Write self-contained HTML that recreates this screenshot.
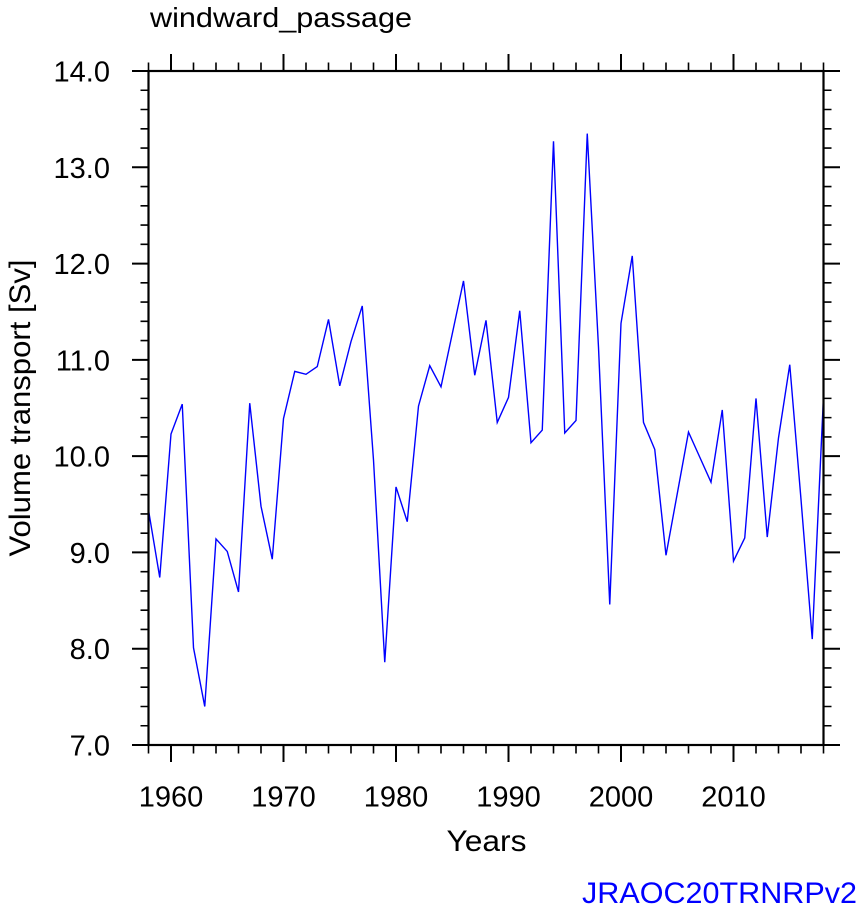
<!DOCTYPE html>
<html>
<head>
<meta charset="utf-8">
<style>
  html, body { margin:0; padding:0; background:#fff; }
  svg { display:block; }
  text { font-family: "Liberation Sans", Arial, Helvetica, sans-serif; fill:#000; }
</style>
</head>
<body>
<svg width="863" height="910" viewBox="0 0 863 910" xmlns="http://www.w3.org/2000/svg">
  <rect x="0" y="0" width="863" height="910" fill="#fff"/>

  <!-- Title -->
  <text x="150" y="27" font-size="28" textLength="262" lengthAdjust="spacingAndGlyphs">windward_passage</text>

  <!-- Data series -->
  <polyline fill="none" stroke="#0000ff" stroke-width="1.4" stroke-linejoin="miter" points="
148.5,510.06 159.75,577.46 171,434.0 182.25,404.15 193.5,647.75 204.75,706.49 216,538.95 227.25,551.46 238.5,591.9 249.75,403.19
261,506.21 272.25,559.17 283.5,418.59 294.75,371.41 306,374.3 317.25,366.6 328.5,319.42 339.75,385.85 351,341.56 362.25,305.94
373.5,459.99 384.75,662.19 396,486.95 407.25,521.62 418.5,406.07 429.75,365.63 441,386.81 452.25,333.86 463.5,280.9 474.75,375.26
486,320.38 497.25,422.44 508.5,397.41 519.75,310.75 531,442.66 542.25,430.15 553.5,141.29 564.75,433.03 576,420.52 587.25,133.59
598.5,347.34 609.75,604.42 621,323.27 632.25,255.87 643.5,422.44 654.75,449.4 666,555.31 677.25,493.69 688.5,432.07 699.75,457.11
711,482.14 722.25,409.93 733.5,561.09 744.75,537.99 756,398.37 767.25,537.02 778.5,437.85 789.75,364.67 801,499.47 812.25,639.09
823.5,396.45"/>

  <!-- Frame -->
  <rect x="148.5" y="71" width="675" height="674" fill="none" stroke="#000" stroke-width="2.2"/>

  <!-- Ticks -->
  <g stroke="#000" stroke-width="2">
    <path d="M132,745H148.5 M132,648.71H148.5 M132,552.43H148.5 M132,456.14H148.5 M132,359.86H148.5 M132,263.57H148.5 M132,167.29H148.5 M132,71H148.5"/>
    <path d="M823.5,745H840 M823.5,648.71H840 M823.5,552.43H840 M823.5,456.14H840 M823.5,359.86H840 M823.5,263.57H840 M823.5,167.29H840 M823.5,71H840"/>
    <path d="M171,745V762 M283.5,745V762 M396,745V762 M508.5,745V762 M621,745V762 M733.5,745V762"/>
    <path d="M171,71V54 M283.5,71V54 M396,71V54 M508.5,71V54 M621,71V54 M733.5,71V54"/>
  </g>
  <g stroke="#000" stroke-width="1.6">
    <path d="M140.5,725.74H148.5 M140.5,706.49H148.5 M140.5,687.23H148.5 M140.5,667.97H148.5
             M140.5,629.46H148.5 M140.5,610.2H148.5 M140.5,590.94H148.5 M140.5,571.69H148.5
             M140.5,533.17H148.5 M140.5,513.91H148.5 M140.5,494.66H148.5 M140.5,475.4H148.5
             M140.5,436.89H148.5 M140.5,417.63H148.5 M140.5,398.37H148.5 M140.5,379.11H148.5
             M140.5,340.6H148.5 M140.5,321.34H148.5 M140.5,302.09H148.5 M140.5,282.83H148.5
             M140.5,244.31H148.5 M140.5,225.06H148.5 M140.5,205.8H148.5 M140.5,186.54H148.5
             M140.5,148.03H148.5 M140.5,128.77H148.5 M140.5,109.51H148.5 M140.5,90.26H148.5"/>
    <path d="M823.5,725.74H831.5 M823.5,706.49H831.5 M823.5,687.23H831.5 M823.5,667.97H831.5
             M823.5,629.46H831.5 M823.5,610.2H831.5 M823.5,590.94H831.5 M823.5,571.69H831.5
             M823.5,533.17H831.5 M823.5,513.91H831.5 M823.5,494.66H831.5 M823.5,475.4H831.5
             M823.5,436.89H831.5 M823.5,417.63H831.5 M823.5,398.37H831.5 M823.5,379.11H831.5
             M823.5,340.6H831.5 M823.5,321.34H831.5 M823.5,302.09H831.5 M823.5,282.83H831.5
             M823.5,244.31H831.5 M823.5,225.06H831.5 M823.5,205.8H831.5 M823.5,186.54H831.5
             M823.5,148.03H831.5 M823.5,128.77H831.5 M823.5,109.51H831.5 M823.5,90.26H831.5"/>
    <path d="M148.5,745V753.5 M193.5,745V753.5 M216,745V753.5 M238.5,745V753.5 M261,745V753.5
             M306,745V753.5 M328.5,745V753.5 M351,745V753.5 M373.5,745V753.5
             M418.5,745V753.5 M441,745V753.5 M463.5,745V753.5 M486,745V753.5
             M531,745V753.5 M553.5,745V753.5 M576,745V753.5 M598.5,745V753.5
             M643.5,745V753.5 M666,745V753.5 M688.5,745V753.5 M711,745V753.5
             M756,745V753.5 M778.5,745V753.5 M801,745V753.5 M823.5,745V753.5"/>
    <path d="M148.5,71V62.5 M193.5,71V62.5 M216,71V62.5 M238.5,71V62.5 M261,71V62.5
             M306,71V62.5 M328.5,71V62.5 M351,71V62.5 M373.5,71V62.5
             M418.5,71V62.5 M441,71V62.5 M463.5,71V62.5 M486,71V62.5
             M531,71V62.5 M553.5,71V62.5 M576,71V62.5 M598.5,71V62.5
             M643.5,71V62.5 M666,71V62.5 M688.5,71V62.5 M711,71V62.5
             M756,71V62.5 M778.5,71V62.5 M801,71V62.5 M823.5,71V62.5"/>
  </g>

  <!-- Y tick labels -->
  <g font-size="29" text-anchor="end">
    <text x="110" y="755.5">7.0</text>
    <text x="110" y="659.2">8.0</text>
    <text x="110" y="562.9">9.0</text>
    <text x="110" y="466.6">10.0</text>
    <text x="110" y="370.3">11.0</text>
    <text x="110" y="274">12.0</text>
    <text x="110" y="177.8">13.0</text>
    <text x="110" y="81.5">14.0</text>
  </g>

  <!-- X tick labels -->
  <g font-size="29" text-anchor="middle">
    <text x="171" y="806.5">1960</text>
    <text x="283.5" y="806.5">1970</text>
    <text x="396" y="806.5">1980</text>
    <text x="508.5" y="806.5">1990</text>
    <text x="621" y="806.5">2000</text>
    <text x="733.5" y="806.5">2010</text>
  </g>

  <!-- Axis titles -->
  <text x="486.5" y="851" font-size="30" text-anchor="middle" textLength="80" lengthAdjust="spacingAndGlyphs">Years</text>
  <text x="30" y="408" font-size="30" text-anchor="middle" transform="rotate(-90 30 408)" textLength="297" lengthAdjust="spacingAndGlyphs">Volume transport [Sv]</text>

  <!-- Bottom-right label -->
  <text x="582" y="903" font-size="30" style="fill:#0000ff" textLength="275" lengthAdjust="spacingAndGlyphs">JRAOC20TRNRPv2</text>
</svg>
</body>
</html>
